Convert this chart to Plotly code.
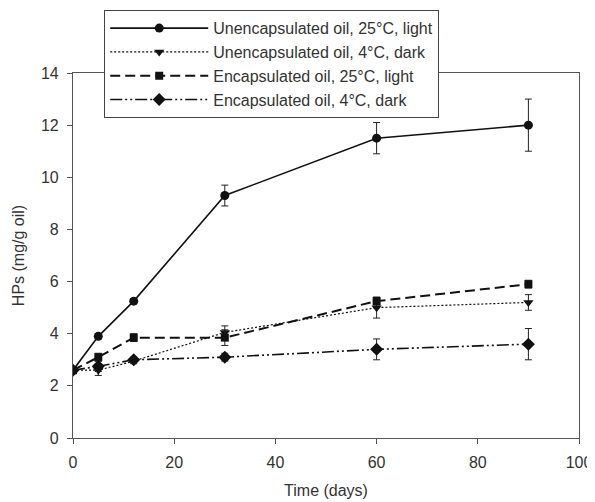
import plotly.graph_objects as go

days = [0, 5, 12, 30, 60, 90]

names = [
    "Unencapsulated oil, 25°C, light",
    "Unencapsulated oil, 4°C, dark",
    "Encapsulated oil, 25°C, light",
    "Encapsulated oil, 4°C, dark",
]

unenc_25_light = [2.6, 3.9, 5.25, 9.3, 11.5, 12.0]
unenc_25_light_err = [0.05, 0.1, 0.1, 0.4, 0.6, 1.0]

unenc_4_dark = [2.6, 2.6, 2.95, 4.05, 5.0, 5.2]
unenc_4_dark_err = [0.05, 0.2, 0.1, 0.25, 0.4, 0.3]

enc_25_light = [2.6, 3.1, 3.85, 3.85, 5.25, 5.9]
enc_25_light_err = [0.05, 0.15, 0.15, 0.3, 0.15, 0.15]

enc_4_dark = [2.6, 2.75, 3.0, 3.1, 3.4, 3.6]
enc_4_dark_err = [0.05, 0.2, 0.1, 0.15, 0.4, 0.6]

series = [unenc_25_light, unenc_4_dark, enc_25_light, enc_4_dark]
errors = [unenc_25_light_err, unenc_4_dark_err, enc_25_light_err, enc_4_dark_err]
symbols = ["circle", "triangle-down", "square", "diamond"]
dashes = ["solid", "2px,2px", "10px,5px", "12px,3px,2px,3px,2px,3px"]
widths = [1.6, 1.2, 2.0, 1.6]
msizes = [9, 9, 8, 10]

FONT = "Liberation Sans, Arial, sans-serif"

fig = go.Figure()
for name, y, e, sym, d, w, ms in zip(names, series, errors, symbols, dashes, widths, msizes):
    fig.add_trace(go.Scatter(
        x=days, y=y, name=name, mode="lines+markers",
        line=dict(color="#111111", width=w, dash=d),
        marker=dict(symbol=sym, size=ms, color="#111111"),
        error_y=dict(type="data", array=e, visible=True, color="#222222",
                     thickness=1, width=3.5),
    ))

axis_common = dict(
    showgrid=False, zeroline=False, showline=True, mirror=True,
    linecolor="#555555", linewidth=1.2, ticks="outside", ticklen=5,
    tickcolor="#555555", automargin=False, ticklabelstandoff=5,
    tickfont=dict(family=FONT, size=16, color="#333333"),
)

fig.update_layout(
    width=595, height=502,
    margin=dict(l=65, r=24, t=65, b=72, autoexpand=False),
    paper_bgcolor="white", plot_bgcolor="white",
    font=dict(family=FONT, color="#333333"),
    xaxis=dict(range=[0, 100], dtick=20, tick0=0,
               title=dict(text="Time (days)", font=dict(size=16), standoff=14),
               **axis_common),
    yaxis=dict(range=[0, 14], dtick=2, tick0=0,
               title=dict(text="HPs (mg/g oil)", font=dict(size=16), standoff=12),
               **axis_common),
    legend=dict(
        x=0.0613, y=1.1726, xanchor="left", yanchor="top",
        bgcolor="white", bordercolor="#444444", borderwidth=1.2,
        font=dict(family=FONT, size=16, color="#333333"),
        itemwidth=98, tracegroupgap=0,
    ),
    showlegend=True,
)

fig.write_html("out.html")
